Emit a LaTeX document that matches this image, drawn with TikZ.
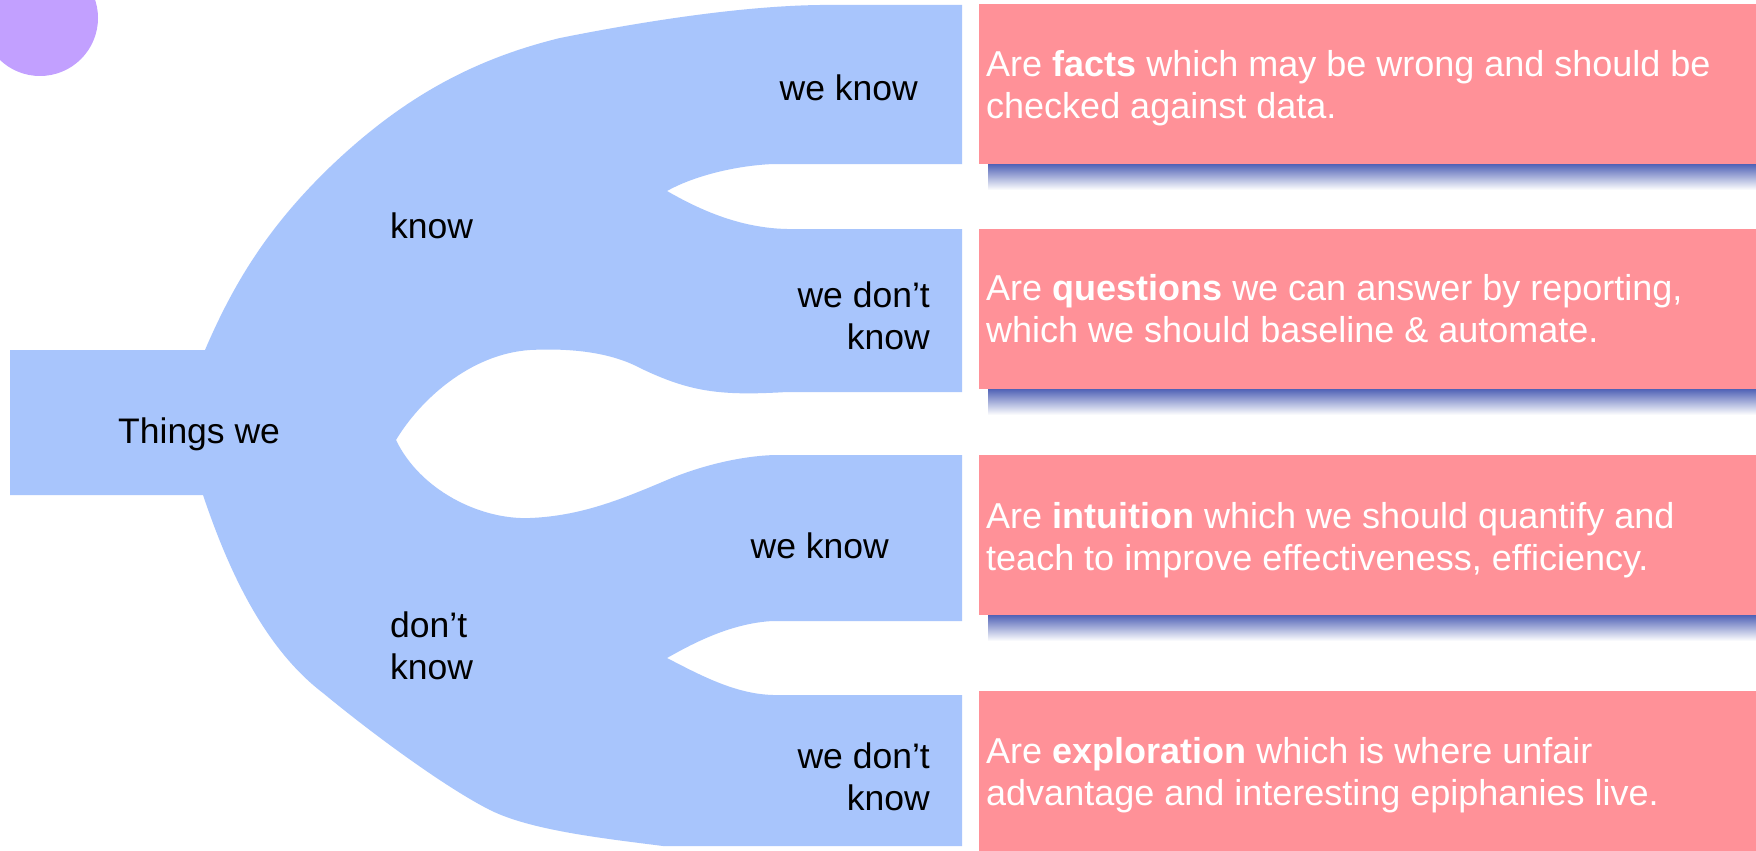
\documentclass[tikz,border=0pt]{standalone}
\usepackage{fontspec}
\setmainfont{Liberation Sans}
\definecolor{branchblue}{RGB}{168,197,252}
\definecolor{boxpink}{RGB}{255,145,152}
\definecolor{dotpurple}{RGB}{194,160,255}
\definecolor{shadowblue}{RGB}{80,98,182}
\begin{document}
\begin{tikzpicture}[x=1pt,y=-1pt,
  lbl/.style={inner sep=0pt, font=\fontsize{35.5}{42}\selectfont, text=black},
  boxtext/.style={inner sep=0pt, font=\fontsize{36}{42}\selectfont, text=white},
  pinkbox/.style={fill=boxpink, draw=none, inner sep=0pt, anchor=north west, minimum width=777pt, minimum height=160pt},
  boxshadow/.style={top color=shadowblue, bottom color=white, draw=none},
]
\useasboundingbox (0,0) rectangle (1756,851);
\fill[white] (0,0) rectangle (1756,851);

% purple dot
\fill[dotpurple] (40,18) circle (58);

% branching shape
\fill[branchblue]
  (10,350) -- (205,350)
  .. controls (235,280) and (270,225) .. (330,167)
  .. controls (400,100) and (470,60) .. (560,38)
  .. controls (640,22) and (740,6) .. (820,5)
  -- (962,5) -- (962,164) -- (773,164)
  .. controls (730,166) and (690,178) .. (667,191)
  .. controls (700,210) and (740,228) .. (787,229)
  -- (962,229) -- (962,392) -- (787,392)
  .. controls (720,396) and (690,392) .. (640,368)
  .. controls (610,352) and (570,348) .. (530,350)
  .. controls (470,354) and (420,400) .. (396,440)
  .. controls (420,490) and (480,520) .. (530,518)
  .. controls (580,516) and (620,500) .. (667,480)
  .. controls (700,466) and (740,456) .. (775,455)
  -- (962,455) -- (962,621) -- (773,621)
  .. controls (730,623) and (690,645) .. (667,658)
  .. controls (700,675) and (735,694) .. (773,695)
  -- (962,695) -- (962,846) -- (663,846)
  .. controls (600,838) and (530,830) .. (490,810)
  .. controls (450,790) and (380,740) .. (323,693)
  .. controls (260,645) and (225,560) .. (203,495)
  -- (10,495) -- cycle;

% shadows under the boxes
\shade[boxshadow] (988,164) rectangle (1756,190);
\shade[boxshadow] (988,389) rectangle (1756,415);
\shade[boxshadow] (988,615) rectangle (1756,641);

% pink boxes
\node[pinkbox] (b1) at (979,4) {};
\node[pinkbox] (b2) at (979,229) {};
\node[pinkbox] (b3) at (979,455) {};
\node[pinkbox] (b4) at (979,691) {};

% labels in the tree
\node[lbl, anchor=base west] (root) at (118,443) {Things we};
\node[lbl, anchor=base west] (k) at (390,238) {know};
\node[lbl, anchor=base west] (dk) at (390,637) {\begin{tabular}[t]{@{}l@{}}don’t\\know\end{tabular}};
\node[lbl, anchor=base east] (kk) at (918,100) {we know};
\node[lbl, anchor=base east] (kdk) at (930,307) {\begin{tabular}[t]{@{}r@{}}we don’t\\know\end{tabular}};
\node[lbl, anchor=base east] (dkk) at (889,558) {we know};
\node[lbl, anchor=base east] (dkdk) at (930,768) {\begin{tabular}[t]{@{}r@{}}we don’t\\know\end{tabular}};

% box texts
\node[boxtext, anchor=base west] (t1) at (986,77) {\begin{tabular}[t]{@{}l@{}}Are \textbf{facts} which may be wrong and should be\\checked against data.\end{tabular}};
\node[boxtext, anchor=base west] (t2) at (986,300) {\begin{tabular}[t]{@{}l@{}}Are \textbf{questions} we can answer by reporting,\\which we should baseline \& automate.\end{tabular}};
\node[boxtext, anchor=base west] (t3) at (986,528) {\begin{tabular}[t]{@{}l@{}}Are \textbf{intuition} which we should quantify and\\teach to improve effectiveness, efficiency.\end{tabular}};
\node[boxtext, anchor=base west] (t4) at (986,763) {\begin{tabular}[t]{@{}l@{}}Are \textbf{exploration} which is where unfair\\advantage and interesting epiphanies live.\end{tabular}};
\end{tikzpicture}
\end{document}
